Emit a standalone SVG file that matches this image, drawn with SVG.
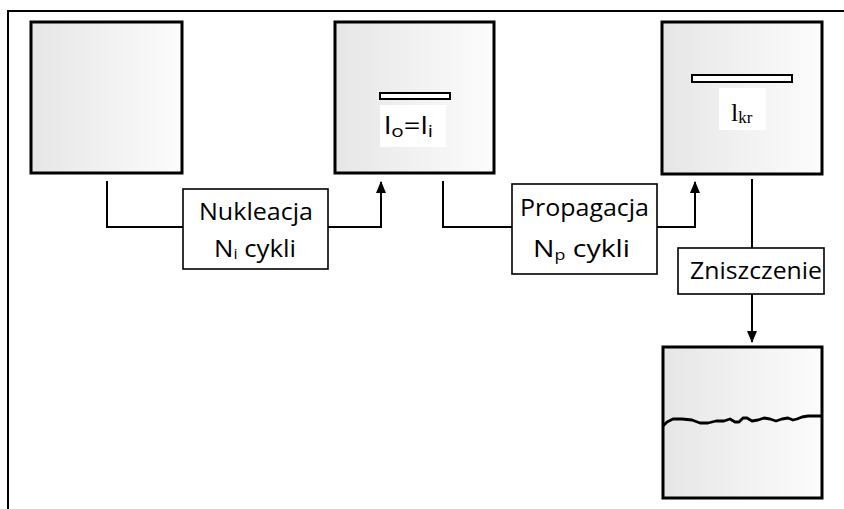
<svg xmlns="http://www.w3.org/2000/svg" width="844" height="509" viewBox="0 0 844 509">
  <defs>
    <linearGradient id="metal" x1="0" y1="0" x2="1" y2="0">
      <stop offset="0" stop-color="#e6e6e6"/>
      <stop offset="1" stop-color="#fcfcfc"/>
    </linearGradient>
    <marker id="arrow" viewBox="0 0 12 10" refX="11" refY="5" markerWidth="6" markerHeight="5" markerUnits="strokeWidth" orient="auto">
      <path d="M0,0 L12,5 L0,10 z" fill="#000"/>
    </marker>
    <style>
      .specimen { fill: url(#metal); stroke: #000; stroke-width: 3; }
      .crack { fill: #fff; stroke: #000; stroke-width: 2; }
      .stage { fill: #fff; stroke: #000; stroke-width: 1.6; }
      .wire { fill: none; stroke: #000; stroke-width: 2; }
      .lbl { font-family: "Open Sans", "Liberation Sans", sans-serif; font-size: 24px; fill: #000; }
      .serif { font-family: "Liberation Serif", serif; fill: #000; }
    </style>
  </defs>

  <!-- outer frame -->
  <rect x="8" y="11" width="850" height="520" fill="none" stroke="#000" stroke-width="2"/>

  <g id="connectors">
    <polyline class="wire" points="107,181 107,227 183,227"/>
    <polyline class="wire" points="328,227 381,227 381,182" marker-end="url(#arrow)"/>
    <polyline class="wire" points="443,181 443,227 512,227"/>
    <polyline class="wire" points="657,227 695,227 695,182" marker-end="url(#arrow)"/>
    <line class="wire" x1="752" y1="179" x2="752" y2="248"/>
    <line class="wire" x1="752" y1="294" x2="752" y2="342" marker-end="url(#arrow)"/>
  </g>

  <g id="specimen-start">
    <rect class="specimen" x="31" y="22" width="151" height="151"/>
  </g>

  <g id="specimen-nucleated">
    <rect class="specimen" x="335" y="22" width="159" height="151"/>
    <rect class="crack" x="380" y="93" width="70" height="6"/>
    <rect x="380" y="105" width="66" height="42" fill="#fff"/>
    <text class="lbl" x="384" y="134" font-size="26" textLength="49" lengthAdjust="spacingAndGlyphs">l<tspan font-size="17" dy="3">o</tspan><tspan dy="-3">=l</tspan><tspan font-size="17" dy="3">i</tspan></text>
  </g>

  <g id="specimen-critical">
    <rect class="specimen" x="662" y="22" width="160" height="152"/>
    <rect class="crack" x="692" y="75" width="100" height="7"/>
    <rect x="719" y="88" width="47" height="42" fill="#fff"/>
    <text class="serif" x="731" y="121" font-size="26">l<tspan font-size="17" dy="2">kr</tspan></text>
  </g>

  <g id="specimen-fractured">
    <rect class="specimen" x="663" y="347" width="159" height="151"/>
    <path d="M663,426 L667,422 L673,419 L682,419 L692,420 L700,423 L708,423 L716,421 L724,421 L730,419 L735,422 L739,422 L743,418 L747,418 L752,421 L758,420 L764,418 L770,419 L776,421 L782,419 L788,418 L793,420 L797,419 L802,417 L808,416 L822,416" fill="none" stroke="#000" stroke-width="2.8" stroke-linejoin="round"/>
  </g>

  <g id="stage-nucleation">
    <rect class="stage" x="183" y="189" width="145" height="80"/>
    <text class="lbl" x="199" y="220" textLength="114" lengthAdjust="spacingAndGlyphs">Nukleacja</text>
    <text class="lbl" x="214" y="257" textLength="82" lengthAdjust="spacingAndGlyphs">N<tspan font-size="15" dy="2">i</tspan><tspan dy="-2"> cykli</tspan></text>
  </g>

  <g id="stage-propagation">
    <rect class="stage" x="512" y="184" width="145" height="90"/>
    <text class="lbl" x="520" y="216" textLength="129" lengthAdjust="spacingAndGlyphs">Propagacja</text>
    <text class="lbl" x="533" y="257" textLength="97" lengthAdjust="spacingAndGlyphs">N<tspan font-size="15" dy="3">p</tspan><tspan dy="-3"> cykli</tspan></text>
  </g>

  <g id="stage-failure">
    <rect class="stage" x="678" y="248" width="146" height="46"/>
    <text class="lbl" x="690" y="279" textLength="132" lengthAdjust="spacingAndGlyphs">Zniszczenie</text>
  </g>
</svg>
